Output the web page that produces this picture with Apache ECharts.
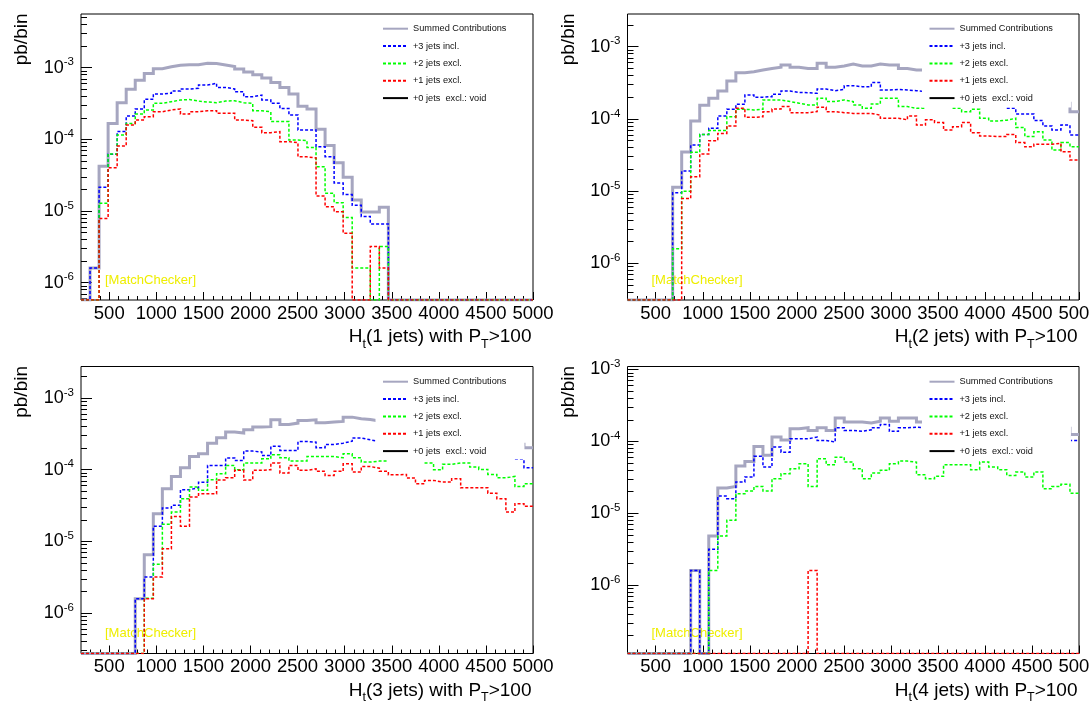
<!DOCTYPE html>
<html><head><meta charset="utf-8">
<script src="https://cdn.jsdelivr.net/npm/echarts@6/dist/echarts.min.js"></script>
<style>html,body{margin:0;padding:0;background:#fff}#c{width:1089px;height:706px}</style>
</head><body><div id="c"></div>
<script>
// ---- histogram definition ----
const HT_EDGE0 = 200, BIN_W = 96;
const xTickLabels = [500,1000,1500,2000,2500,3000,3500,4000,4500,5000];
const yTickExponents = [-6,-5,-4,-3];
const seriesNames = ['Summed Contributions','+3 jets incl.','+2 jets excl.','+1 jets excl.','+0 jets  excl.: void'];
const jetCounts = ['1','2','3','4'];

// ---- panel 1 : Ht(1 jets) ----
const summed1 = [0,1.6e-6,4.2e-5,1.67e-4,3.25e-4,5.0e-4,6.7e-4,8.3e-4,9.7e-4,1.03e-3,
 1.08e-3,1.10e-3,1.10e-3,1.15e-3,1.14e-3,1.09e-3,1.04e-3,9.6e-4,8.7e-4,8.0e-4,
 7.2e-4,6.2e-4,5.3e-4,4.3e-4,2.9e-4,2.65e-4,1.38e-4,8.2e-5,4.7e-5,2.96e-5,
 1.43e-5,9.7e-6,9.7e-6,1.13e-5,0,0,0,0,0,0,
 0,0,0,0,0,0,0,0,0,0];
const plus3_1 = [0,1.6e-6,2.14e-5,6.2e-5,1.29e-4,2.12e-4,2.65e-4,3.62e-4,4.3e-4,4.4e-4,
 4.73e-4,5.05e-4,5.15e-4,5.73e-4,6.05e-4,5.3e-4,5.05e-4,4.62e-4,3.94e-4,4.15e-4,
 3.54e-4,3.18e-4,2.7e-4,2.19e-4,1.35e-4,1.35e-4,7.9e-5,5.74e-5,2.47e-5,1.7e-5,
 1.2e-5,8.4e-6,6.6e-6,6.6e-6,0,0,0,0,0,0,
 0,0,0,0,0,0,0,0,0,0];
const plus2_1 = [0,0,1.28e-5,6.25e-5,1.15e-4,1.67e-4,2.26e-4,2.57e-4,3.18e-4,3.36e-4,
 3.54e-4,3.6e-4,3.42e-4,3.32e-4,3.25e-4,3.42e-4,3.46e-4,3.25e-4,3.18e-4,2.51e-4,
 2.43e-4,1.77e-4,1.77e-4,9.8e-5,9.6e-5,7.7e-5,4.16e-5,1.77e-5,1.31e-5,8.1e-6,
 1.6e-6,1.6e-6,0,3.2e-6,0,0,0,0,0,0,
 0,0,0,0,0,0,0,0,0,0];
const plus1_1 = [0,0,7.9e-6,4.03e-5,8.1e-5,1.59e-4,1.86e-4,2.07e-4,2.43e-4,2.57e-4,
 2.65e-4,2.26e-4,2.43e-4,2.51e-4,2.51e-4,2.31e-4,2.31e-4,1.86e-4,1.82e-4,1.47e-4,
 1.24e-4,1.28e-4,9.3e-5,9.0e-5,5.7e-5,5.5e-5,1.62e-5,1.15e-5,9.8e-6,4.9e-6,
 0,0,3.2e-6,1.6e-6,0,0,0,0,0,0,
 0,0,0,0,0,0,0,0,0,0];

// ---- panel 2 : Ht(2 jets) ---- (null = hidden behind the legend box)
const summed2 = [0,0,0,0,0,1.13e-5,3.48e-5,9.35e-5,1.54e-4,1.93e-4,
 2.43e-4,3.35e-4,4.36e-4,4.5e-4,4.75e-4,5.0e-4,5.18e-4,5.57e-4,5.18e-4,5.0e-4,
 5.0e-4,5.87e-4,5.18e-4,5.4e-4,5.75e-4,5.4e-4,5.4e-4,5.75e-4,5.57e-4,5.57e-4,
 5.0e-4,4.75e-4,4.75e-4,null,null,null,null,null,null,null,
 null,null,null,null,null,null,null,null,1.64e-4,1.26e-4];
const plus3_2 = [0,0,0,0,0,9.5e-6,1.9e-5,4.35e-5,6.1e-5,7.4e-5,
 1.1e-4,1.36e-4,1.59e-4,2.14e-4,2.0e-4,2.03e-4,2.19e-4,2.43e-4,2.33e-4,2.3e-4,
 2.26e-4,2.59e-4,2.46e-4,2.56e-4,2.88e-4,2.79e-4,2.79e-4,3.18e-4,2.51e-4,2.56e-4,
 2.51e-4,2.46e-4,2.38e-4,null,null,null,null,null,null,null,
 null,null,1.4e-4,1.17e-4,1.17e-4,9.5e-5,8.0e-5,7.0e-5,8.2e-5,6.0e-5];
const plus2_2 = [0,0,0,0,0,1.6e-6,1.0e-5,3.44e-5,6.1e-5,6.9e-5,
 6.9e-5,1.07e-4,1.36e-4,1.33e-4,1.36e-4,1.83e-4,1.83e-4,1.74e-4,1.65e-4,1.56e-4,
 1.56e-4,1.93e-4,1.74e-4,1.83e-4,1.74e-4,1.56e-4,1.4e-4,1.61e-4,1.93e-4,1.93e-4,
 1.48e-4,1.4e-4,1.4e-4,null,null,null,1.4e-4,1.26e-4,1.36e-4,1.02e-4,
 9.35e-5,9.6e-5,1.02e-4,7.6e-5,5.7e-5,6.65e-5,5.1e-5,3.7e-5,4.7e-5,4.1e-5];
const plus1_2 = [0,0,0,0,0,0,7.9e-6,1.58e-5,3.27e-5,5.0e-5,
 6.3e-5,8.0e-5,1.4e-4,1.05e-4,1.07e-4,1.26e-4,1.37e-4,1.48e-4,1.22e-4,1.22e-4,
 1.26e-4,1.45e-4,1.26e-4,1.22e-4,1.19e-4,1.19e-4,1.19e-4,1.13e-4,1.02e-4,1.02e-4,
 9.7e-5,1.1e-4,8.2e-5,9.7e-5,8.9e-5,7.0e-5,7.8e-5,8.9e-5,6.45e-5,5.8e-5,
 5.7e-5,5.7e-5,6.1e-5,4.7e-5,4.1e-5,4.45e-5,4.45e-5,4.6e-5,3.5e-5,2.7e-5];

// ---- panel 3 : Ht(3 jets) ----
const summed3 = [0,0,0,0,0,0,1.58e-6,6.5e-6,2.43e-5,5.43e-5,
 8.07e-5,1.07e-4,1.53e-4,1.67e-4,2.35e-4,2.8e-4,3.36e-4,3.25e-4,3.61e-4,3.94e-4,
 4.0e-4,4.99e-4,4.3e-4,4.48e-4,4.88e-4,4.99e-4,4.53e-4,4.63e-4,4.73e-4,5.43e-4,
 5.15e-4,5.04e-4,4.78e-4,null,null,null,null,null,null,null,
 null,null,null,null,null,null,null,null,2.27e-4,2.03e-4];
const plus3_3 = [0,0,0,0,0,0,1.58e-6,3.18e-6,1.62e-5,2.92e-5,
 3.18e-5,5.26e-5,5.6e-5,6.7e-5,1.15e-4,1.15e-4,1.46e-4,1.35e-4,1.82e-4,1.77e-4,
 1.58e-4,2.12e-4,1.86e-4,1.86e-4,2.48e-4,2.43e-4,2.03e-4,2.25e-4,2.35e-4,2.5e-4,
 2.77e-4,2.62e-4,2.48e-4,null,null,null,null,null,null,null,
 null,null,null,null,null,null,null,null,1.4e-4,1.07e-4];
const plus2_3 = [0,0,0,0,0,0,0,1.6e-6,4.78e-6,1.73e-5,
 2.56e-5,3.94e-5,5.73e-5,5.15e-5,7.24e-5,8.8e-5,1.15e-4,1.0e-4,1.24e-4,1.24e-4,
 1.42e-4,1.62e-4,1.47e-4,1.32e-4,1.32e-4,1.53e-4,1.53e-4,1.53e-4,1.47e-4,1.67e-4,
 1.47e-4,1.28e-4,1.32e-4,1.32e-4,null,null,null,null,1.24e-4,1.0e-4,
 1.19e-4,1.24e-4,1.24e-4,1.09e-4,1.01e-4,8.6e-5,7.7e-5,8.07e-5,5.85e-5,6.38e-5];
const plus1_3 = [0,0,0,0,0,0,0,1.58e-6,3.18e-6,7.9e-6,
 2.23e-5,1.62e-5,4.16e-5,4.62e-5,4.62e-5,7.2e-5,7.7e-5,9.8e-5,7.2e-5,9.8e-5,
 1.0e-4,1.24e-4,9.0e-5,1.15e-4,9.8e-5,1.03e-4,9.5e-5,8.3e-5,9.5e-5,1.21e-4,
 9.3e-5,1.11e-4,1.05e-4,9.5e-5,8.5e-5,8.6e-5,7.65e-5,6.38e-5,7.1e-5,6.73e-5,
 6.73e-5,7.5e-5,5.6e-5,5.6e-5,5.6e-5,4.7e-5,3.94e-5,2.56e-5,3.36e-5,3.08e-5];

// ---- panel 4 : Ht(4 jets) ----
const summed4 = [0,0,0,0,0,0,0,1.61e-6,0,4.84e-6,
 2.25e-5,2.37e-5,4.54e-5,5.27e-5,8.5e-5,6.4e-5,1.15e-4,1.05e-4,1.5e-4,1.55e-4,
 1.42e-4,1.55e-4,1.42e-4,2.11e-4,1.86e-4,1.86e-4,1.8e-4,1.91e-4,2.11e-4,1.91e-4,
 2.11e-4,2.11e-4,1.86e-4,null,null,null,null,null,null,null,
 null,null,null,null,null,null,null,null,1.53e-4,1.25e-4];
const plus3_4 = [0,0,0,0,0,0,0,1.61e-6,0,3.16e-6,
 1.74e-5,1.6e-5,2.72e-5,3.2e-5,6.2e-5,4.4e-5,8.34e-5,7.1e-5,1.09e-4,1.09e-4,
 1.15e-4,1.03e-4,9.8e-5,1.55e-4,1.42e-4,1.38e-4,1.45e-4,1.55e-4,1.72e-4,1.38e-4,
 1.55e-4,1.58e-4,1.55e-4,null,null,null,null,null,null,null,
 null,null,null,null,null,null,null,null,1.28e-4,1.03e-4];
const plus2_4 = [0,0,0,0,0,0,0,0,0,1.61e-6,
 4.84e-6,8.0e-6,1.88e-5,2.04e-5,2.37e-5,2.04e-5,3.03e-5,3.56e-5,4.17e-5,4.9e-5,
 2.37e-5,5.74e-5,4.74e-5,6.05e-5,5.16e-5,4.17e-5,3.03e-5,3.63e-5,3.96e-5,4.9e-5,
 5.33e-5,5.16e-5,3.44e-5,3.03e-5,3.27e-5,4.74e-5,4.74e-5,4.74e-5,4.04e-5,5.16e-5,
 4.4e-5,4.04e-5,3.37e-5,3.75e-5,3.2e-5,3.75e-5,2.2e-5,2.37e-5,2.53e-5,1.91e-5];
const plus1_4 = [0,0,0,0,0,0,0,0,0,0,
 0,0,0,0,0,0,0,0,0,0,
 1.61e-6,0,0,0,0,0,0,0,0,0,
 0,0,0,0,0,0,0,0,0,0,
 0,0,0,0,0,0,0,0,0,0];

const panelData = [
  [summed1, plus3_1, plus2_1, plus1_1],
  [summed2, plus3_2, plus2_2, plus1_2],
  [summed3, plus3_3, plus2_3, plus1_3],
  [summed4, plus3_4, plus2_4, plus1_4]
];

// ---- layout / style ----
const FONT = "'Liberation Sans', Arial, Helvetica, sans-serif";
const L = {
  left: [81, 627.5, 81, 627.5], top: [14, 14, 366.5, 366.5],
  width: [452, 451.5, 452, 451.5], height: [286, 286, 287, 287],
  logMin: [-6.241, -6.507, -6.567, -6.949], logMax: [-2.251, -2.548, -2.558, -2.958],
  xMin: 200, xMax: 5000
};
const styles = [
  {color: '#a6a6c0', width: 3, type: 'solid'},
  {color: '#0000ff', width: 1.5, type: [3, 2]},
  {color: '#00ff00', width: 1.5, type: [3, 2]},
  {color: '#ff0000', width: 1.5, type: [3, 2]},
  {color: '#000000', width: 1, type: 'solid'}
];

const xMinor = [];
for (let v = 300; v < 5000; v += 100) if (v % 500 !== 0) xMinor.push(v);
function yMinor(lo, hi) {
  const out = [];
  for (let e = -8; e <= -2; e++) for (let k = 2; k <= 9; k++) {
    const l = Math.log10(k) + e;
    if (l > lo && l < hi) out.push(l);
  }
  return out;
}

function stepData(vals, yMin) {
  const pts = [];
  for (let i = 0; i < vals.length; i++) {
    const v = vals[i];
    const lo = HT_EDGE0 + i * BIN_W, hi = lo + BIN_W;
    if (v === null) { pts.push([lo, '-']); continue; }
    const y = v > 0 ? Math.max(Math.log10(v), yMin) : yMin;
    pts.push([lo, y], [hi, y]);
  }
  return pts;
}

const grid = [], xAxis = [], yAxis = [], series = [], legend = [], graphic = [];
for (let p = 0; p < 4; p++) {
  grid.push({left: L.left[p], top: L.top[p], width: L.width[p], height: L.height[p],
    show: true, borderColor: '#000', borderWidth: 1, backgroundColor: 'transparent',
    containLabel: false, outerBoundsMode: 'none'});
  xAxis.push({gridIndex: p, type: 'value', min: L.xMin, max: L.xMax, position: 'bottom',
    axisLine: {show: false}, splitLine: {show: false},
    axisTick: {show: true, inside: true, length: 8, customValues: xTickLabels, lineStyle: {color: '#000', width: 1}},
    axisLabel: {show: true, customValues: xTickLabels, margin: 4, color: '#000', fontSize: 18.5, fontFamily: FONT,
      formatter: v => String(Math.round(v))}});
  xAxis.push({gridIndex: p, type: 'value', min: L.xMin, max: L.xMax, position: 'bottom',
    axisLine: {show: false}, splitLine: {show: false}, axisLabel: {show: false},
    axisTick: {show: true, inside: true, length: 4, customValues: xMinor, lineStyle: {color: '#000', width: 1}}});
  yAxis.push({gridIndex: p, type: 'value', min: L.logMin[p], max: L.logMax[p], position: 'left',
    axisLine: {show: false}, splitLine: {show: false},
    axisTick: {show: true, inside: true, length: 11, customValues: yTickExponents, lineStyle: {color: '#000', width: 1}},
    axisLabel: {show: true, customValues: yTickExponents, margin: 7,
      formatter: v => '{b|10}{s|' + Math.round(v) + '}',
      rich: {
        b: {fontSize: 18, lineHeight: 23, fontFamily: FONT, color: '#000'},
        s: {fontSize: 11.5, lineHeight: 11, verticalAlign: 'top', fontFamily: FONT, color: '#000'}
      }}});
  yAxis.push({gridIndex: p, type: 'value', min: L.logMin[p], max: L.logMax[p], position: 'left',
    axisLine: {show: false}, splitLine: {show: false}, axisLabel: {show: false},
    axisTick: {show: true, inside: true, length: 6, customValues: yMinor(L.logMin[p], L.logMax[p]), lineStyle: {color: '#000', width: 1}}});

  const hists = panelData[p];
  for (let s = 0; s < 5; s++) {
    const st = styles[s];
    series.push({
      type: 'line', name: seriesNames[s], xAxisIndex: 2 * p, yAxisIndex: 2 * p,
      data: s < 4 ? stepData(hists[s], L.logMin[p]) : [],
      symbol: 'none', silent: true, animation: false, connectNulls: false,
      emphasis: {disabled: true},
      itemStyle: {color: st.color},
      lineStyle: {color: st.color, width: st.width, type: st.type, join: 'miter', cap: 'butt'}
    });
  }

  legend.push({
    orient: 'vertical', left: L.left[p] + 294.5, top: L.top[p] + 1,
    itemWidth: 25, itemHeight: 10, itemGap: 7.35,
    padding: [p < 2 ? 8.7 : 9.2, 18, p < 2 ? 4.5 : 3.5, 6.5],
    backgroundColor: '#ffffff', selectedMode: false,
    data: seriesNames,
    itemStyle: {opacity: 0, borderWidth: 0},
    lineStyle: {inactiveWidth: 1},
    textStyle: {fontSize: 9.2, lineHeight: 10, fontFamily: FONT, color: '#111'}
  });

  const gx = L.left[p], gy = L.top[p], gw = L.width[p], gh = L.height[p];
  graphic.push({
    type: 'text', x: gx - 59, y: gy - 0.5, rotation: Math.PI / 2, silent: true,
    style: {text: 'pb/bin', fontSize: 19, fontFamily: FONT, fill: '#000',
      align: 'right', verticalAlign: 'middle', textAlign: 'right', textVerticalAlign: 'middle'}
  });
  graphic.push({
    type: 'text', x: gx + gw - 1.5, y: gy + gh + 37, silent: true,
    style: {
      text: '{b|H}{s|t}{b|(' + jetCounts[p] + ' jets) with P}{s|T}{b|>100}',
      rich: {
        b: {fontSize: 19, lineHeight: 28, fontFamily: FONT, fill: '#000', color: '#000'},
        s: {fontSize: 12.5, lineHeight: 12, verticalAlign: 'bottom', fontFamily: FONT, fill: '#000', color: '#000'}
      },
      align: 'right', verticalAlign: 'middle', textAlign: 'right', textVerticalAlign: 'middle'}
  });
  graphic.push({
    type: 'text', x: gx + 24, y: gy + gh - 20, silent: true,
    style: {text: '[MatchChecker]', fontSize: 13, fontFamily: FONT, fill: '#eeee00',
      align: 'left', verticalAlign: 'middle', textAlign: 'left', textVerticalAlign: 'middle'}
  });
}

const chart = echarts.init(document.getElementById('c'), null, {renderer: 'canvas', width: 1089, height: 706});
chart.setOption({
  animation: false, backgroundColor: '#ffffff',
  grid, xAxis, yAxis, series, legend, graphic
});
</script>
</body></html>
